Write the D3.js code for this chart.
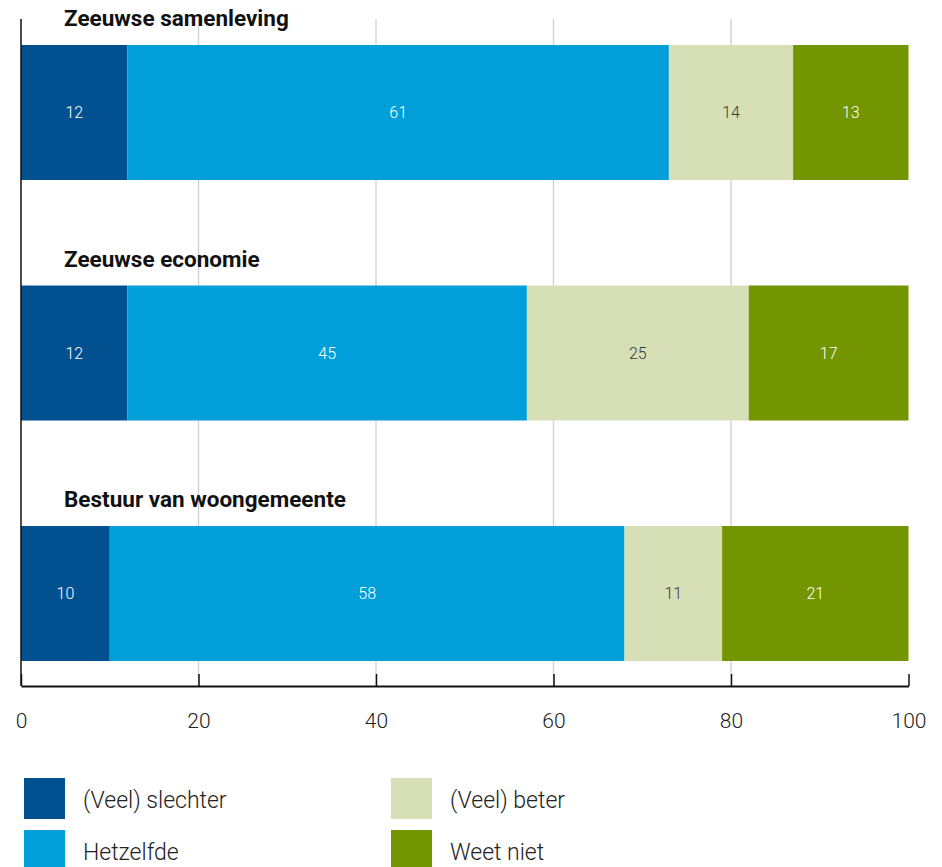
<!DOCTYPE html>
<html>
<head>
<meta charset="utf-8">
<script src="https://cdn.jsdelivr.net/npm/d3@7"></script>
<style>
  html, body { margin: 0; padding: 0; background: #fff; }
  svg { display: block; }
</style>
</head>
<body>
<svg id="chart" width="942" height="867"></svg>
<script>
// ---- data ----
const categories = ["Zeeuwse samenleving", "Zeeuwse economie", "Bestuur van woongemeente"];
const seriesNames = ["(Veel) slechter", "Hetzelfde", "(Veel) beter", "Weet niet"];
const slechter = [12, 12, 10];
const hetzelfde = [61, 45, 58];
const beter = [14, 25, 11];
const weetNiet = [13, 17, 21];
const tickValues = [0, 20, 40, 60, 80, 100];
const colors = ["#01508f", "#009fda", "#d6dfb6", "#739500"];
const labelColors = ["#ffffff", "#ffffff", "#3a3a3a", "#ffffff"];

const seriesValues = [slechter, hetzelfde, beter, weetNiet];

// ---- setup ----
const svg = d3.select("#chart");
const FONT = "Roboto, 'Open Sans', sans-serif";

const x = d3.scaleLinear().domain([0, 100]).range([21, 908.5]);
const y = d3.scaleBand().domain(categories).range([45, 661]).paddingInner(0.4387).paddingOuter(0);
const axisY = 686;
const plotTop = 19;

// gridlines
svg.append("g").selectAll("line")
  .data(tickValues.filter(t => t > 0 && t < 100))
  .join("line")
  .attr("x1", d => x(d)).attr("x2", d => x(d))
  .attr("y1", plotTop).attr("y2", axisY)
  .attr("stroke", "#cfcfcf").attr("stroke-width", 1.3);

// rows
const rows = categories.map((c, i) => {
  let cum = 0;
  const segs = seriesValues.map((arr, k) => {
    const v = arr[i];
    const x0 = cum;
    cum += v;
    // the last category closes the bar (rounded values)
    const x1 = k === seriesValues.length - 1 ? 100 : cum;
    return { cat: c, k, v, x0, x1 };
  });
  return segs;
}).flat();

const gBars = svg.append("g");
gBars.selectAll("rect")
  .data(rows)
  .join("rect")
  .attr("x", d => x(d.x0))
  .attr("y", d => y(d.cat))
  .attr("width", d => x(d.x1) - x(d.x0))
  .attr("height", y.bandwidth())
  .attr("fill", d => colors[d.k]);

gBars.selectAll("text")
  .data(rows)
  .join("text")
  .attr("x", d => (x(d.x0) + x(d.x1)) / 2)
  .attr("y", d => y(d.cat) + y.bandwidth() / 2)
  .attr("dy", "0.35em")
  .attr("text-anchor", "middle")
  .attr("font-family", FONT)
  .attr("font-weight", 300)
  .attr("font-size", 16)
  .attr("fill", d => labelColors[d.k])
  .text(d => d.v);

// category titles
svg.append("g").selectAll("text")
  .data(categories)
  .join("text")
  .attr("x", 64)
  .attr("y", d => y(d) - 19)
  .attr("font-family", FONT)
  .attr("font-weight", 700)
  .attr("font-size", 22.5)
  .attr("fill", "#111")
  .text(d => d);

// left axis line
svg.append("line")
  .attr("x1", x(0)).attr("x2", x(0))
  .attr("y1", plotTop).attr("y2", axisY)
  .attr("stroke", "#111").attr("stroke-width", 1.5);

// bottom axis
const xAxis = d3.axisBottom(x)
  .tickValues(tickValues)
  .tickSizeInner(-12)
  .tickSizeOuter(0)
  .tickPadding(27)
  .tickFormat(d3.format("d"));

const gAxis = svg.append("g")
  .attr("transform", `translate(0,${axisY})`)
  .call(xAxis);
gAxis.select(".domain").attr("stroke", "#111").attr("stroke-width", 1.8);
gAxis.selectAll(".tick line").attr("stroke", "#111").attr("stroke-width", 1.5);
gAxis.selectAll(".tick text")
  .attr("font-family", FONT)
  .attr("font-weight", 300)
  .attr("font-size", 21)
  .attr("fill", "#222");

// legend
const legendPos = [
  { x: 24, y: 778 }, { x: 24, y: 830 },
  { x: 391, y: 778 }, { x: 391, y: 830 }
];
const gLeg = svg.append("g");
const items = gLeg.selectAll("g")
  .data(seriesNames)
  .join("g")
  .attr("transform", (d, i) => `translate(${legendPos[i].x},${legendPos[i].y})`);
items.append("rect")
  .attr("width", 41).attr("height", 41)
  .attr("fill", (d, i) => colors[i]);
items.append("text")
  .attr("x", 59)
  .attr("y", 30)
  .attr("font-family", FONT)
  .attr("font-weight", 300)
  .attr("font-size", 23)
  .attr("fill", "#222")
  .text(d => d);
</script>
</body>
</html>
